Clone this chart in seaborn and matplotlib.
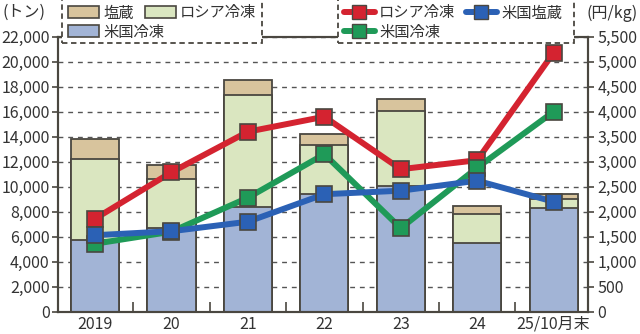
import numpy as np
import pandas as pd
import matplotlib
matplotlib.use("Agg")
import matplotlib.pyplot as plt
from matplotlib.patches import Patch, Rectangle
from matplotlib.lines import Line2D
import seaborn as sns

# ---- data ----
years = ['2019', '20', '21', '22', '23', '24', '25/10月末']
us_frozen = [5700, 6700, 8400, 9450, 10050, 5470, 8300]        # 米国冷凍 (t)
russia_frozen = [6500, 3950, 8900, 3900, 6000, 2320, 700]      # ロシア冷凍 (t)
salted = [1600, 1050, 1200, 900, 950, 690, 420]                # 塩蔵 (t)

price_russia = [1860, 2790, 3600, 3900, 2850, 3030, 5180]      # ロシア冷凍 (円/kg)
price_us_frozen = [1360, 1600, 2280, 3150, 1670, 2880, 4000]   # 米国冷凍 (円/kg)
price_us_salted = [1530, 1610, 1800, 2350, 2420, 2620, 2200]   # 米国塩蔵 (円/kg)

left_ticks = list(range(0, 22001, 2000))
right_ticks = list(range(0, 5501, 500))

# ---- style ----
sns.set_theme(style='white')
plt.rcParams['font.family'] = ['Noto Sans CJK JP', 'DejaVu Sans']

C_TAN = '#d8c49d'
C_LG = '#dae6c0'
C_LB = '#a2b4d6'
C_RED = '#d42330'
C_GRN = '#1f9a58'
C_BLU = '#2b61b5'
EDGE = '#4a4740'
TXT = '#333333'
FS = 11.5

df = pd.DataFrame({'year': years, 'us': us_frozen, 'ru': russia_frozen, 'sa': salted})
df['t_us'] = df['us']
df['t_ru'] = df['us'] + df['ru']
df['t_sa'] = df['t_ru'] + df['sa']

W, H = 640, 334
fig = plt.figure(figsize=(6.4, 3.34), dpi=100)
ax = fig.add_axes([58/W, 1-311.7/H, 530/W, 275/H])

bw = 0.63
for col, c in [('t_sa', C_TAN), ('t_ru', C_LG), ('t_us', C_LB)]:
    sns.barplot(data=df, x='year', y=col, color=c, width=bw, edgecolor=EDGE,
                linewidth=1.3, saturation=1, ax=ax, zorder=2)

ax.set_xlim(-0.485, 6.45)
ax.set_ylim(0, 22000)
ax.set_yticks(left_ticks)
ax.set_yticklabels([f'{v:,}' for v in left_ticks])
ax.set_xlabel('')
ax.set_ylabel('')
ax.yaxis.grid(True, linestyle=(0, (3.5, 3.5)), color='#555555', linewidth=1.0, zorder=0)
ax.set_axisbelow(True)
ax.tick_params(axis='y', direction='out', length=4, width=1.2, color=EDGE,
               labelsize=FS, labelcolor=TXT, pad=2)
ax.set_xticks(np.arange(len(years)))
ax.tick_params(axis='x', which='major', length=0, labelsize=FS, labelcolor=TXT, pad=3)
ax.set_xticks(np.arange(len(years) - 1) + 0.5, minor=True)
ax.tick_params(axis='x', which='minor', direction='in', length=7, width=1.2, color=EDGE,
               bottom=True)
for s in ax.spines.values():
    s.set_color(EDGE)
    s.set_linewidth(1.5)

ax2 = ax.twinx()
xpos = np.arange(len(years))
for vals, c in [(price_russia, C_RED), (price_us_frozen, C_GRN), (price_us_salted, C_BLU)]:
    sns.lineplot(x=xpos, y=vals, color=c, linewidth=4.3, marker='s', markersize=12,
                 markeredgecolor=EDGE, markeredgewidth=1.2, ax=ax2, zorder=3)
ax2.set_ylim(0, 5500)
ax2.set_yticks(right_ticks)
ax2.set_yticklabels([f'{v:,}' for v in right_ticks])
ax2.tick_params(axis='y', direction='out', length=4, width=1.2, color=EDGE,
                labelsize=FS, labelcolor=TXT, pad=3)
ax2.set_ylabel('')
for s in ax2.spines.values():
    s.set_color(EDGE)
    s.set_linewidth(1.5)

fig.text(2/W, 1-12/H, '(トン)', fontsize=FS, color=TXT, va='center', ha='left')
fig.text(638/W, 1-13/H, '(円/kg)', fontsize=FS, color=TXT, va='center', ha='right')

# legend frames (dashed boxes)
for x0, x1 in [(62, 262), (338, 574)]:
    r = Rectangle((x0/W, 1-43/H), (x1-x0)/W, 45/H, transform=fig.transFigure,
                  facecolor='white', edgecolor=EDGE, linewidth=1.3,
                  linestyle=(0, (3, 2)), zorder=8)
    fig.patches.append(r)

def patch(c, lab):
    return Patch(facecolor=c, edgecolor=EDGE, linewidth=1.2, label=lab)

def lh(c, lab):
    return Line2D([0], [0], color=c, linewidth=4.3, marker='s', markersize=10,
                  markeredgecolor=EDGE, markeredgewidth=1.0, label=lab)

items = [
    (patch(C_TAN, '塩蔵'), 68, 13),
    (patch(C_LG, 'ロシア冷凍'), 145, 13),
    (patch(C_LB, '米国冷凍'), 68, 32),
    (lh(C_RED, 'ロシア冷凍'), 344, 13),
    (lh(C_BLU, '米国塩蔵'), 466, 13),
    (lh(C_GRN, '米国冷凍'), 344, 32),
]
for h, x, y in items:
    lg = fig.legend(handles=[h], loc='center left', bbox_to_anchor=(x/W, 1-y/H),
                    fontsize=11, frameon=False, borderpad=0, borderaxespad=0,
                    handlelength=2.0, handleheight=0.8, handletextpad=0.3)
    lg.set_zorder(10)
    for t in lg.get_texts():
        t.set_color(TXT)

fig.savefig('out.png', dpi=100)
